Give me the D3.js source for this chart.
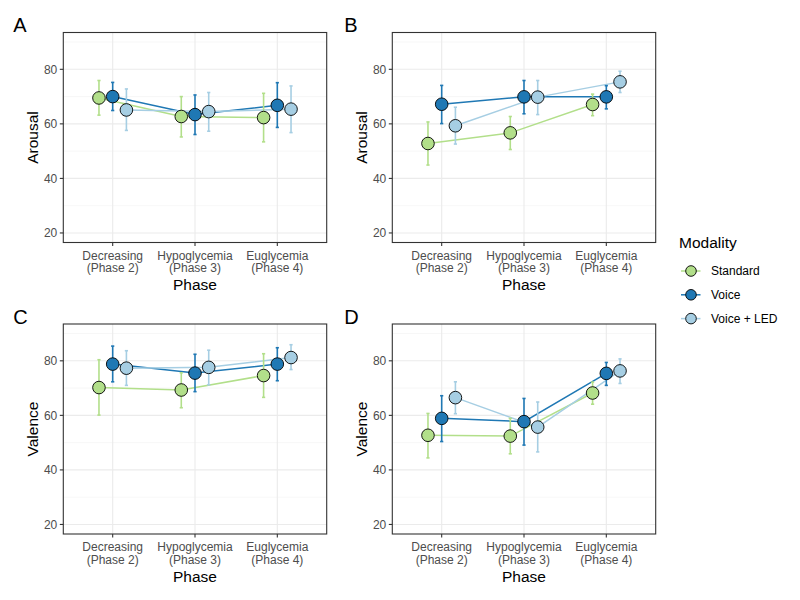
<!DOCTYPE html>
<html>
<head>
<meta charset="utf-8">
<script src="https://cdn.jsdelivr.net/npm/d3@7"></script>
<style>
  body { margin: 0; background: #fff; }
  svg { display: block; font-family: "Liberation Sans", Arial, sans-serif; }
</style>
</head>
<body>
<svg id="chart" width="800" height="600"></svg>
<script>
// ---- Data ----
const phases = ["Decreasing|(Phase 2)", "Hypoglycemia|(Phase 3)", "Euglycemia|(Phase 4)"];
const modalities = ["Standard", "Voice", "Voice + LED"];
const modalityColors = ["#b2df8a", "#1f78b4", "#a6cee3"];
const yTicks = [20, 40, 60, 80];
const yMinor = [30, 50, 70, 90];
const yLimits = [20, 90];

// Panel A: Arousal (mean, lower, upper) per modality per phase
const arousalA_standard = [[69.5, 63.2, 75.9], [62.7, 55.2, 70.0], [62.3, 53.4, 71.2]];
const arousalA_voice    = [[70.0, 64.9, 75.2], [63.4, 56.1, 70.6], [66.8, 58.7, 75.1]];
const arousalA_led      = [[65.1, 57.6, 72.8], [64.5, 57.3, 71.5], [65.4, 56.8, 73.9]];
// Panel B: Arousal
const arousalB_standard = [[52.8, 44.9, 60.7], [56.7, 50.6, 62.7], [67.1, 63.0, 70.9]];
const arousalB_voice    = [[67.2, 60.1, 74.1], [69.9, 63.7, 75.9], [69.9, 65.5, 74.0]];
const arousalB_led      = [[59.3, 52.6, 66.1], [69.8, 63.4, 75.9], [75.4, 71.5, 79.3]];
// Panel C: Valence
const valenceC_standard = [[70.2, 60.1, 80.4], [69.3, 62.8, 75.6], [74.6, 66.6, 82.6]];
const valenceC_voice    = [[78.8, 72.3, 85.4], [75.5, 68.7, 82.4], [78.8, 72.7, 84.8]];
const valenceC_led      = [[77.3, 71.0, 83.7], [77.6, 71.2, 83.9], [81.2, 76.8, 85.9]];
// Panel D: Valence
const valenceD_standard = [[52.7, 44.4, 60.7], [52.4, 45.9, 58.9], [68.2, 64.1, 72.2]];
const valenceD_voice    = [[58.9, 50.4, 67.2], [57.7, 49.1, 66.2], [75.4, 71.0, 79.4]];
const valenceD_led      = [[66.5, 60.6, 72.3], [55.7, 46.6, 64.9], [76.3, 71.7, 80.7]];

const panels = [
  { letter: "A", ylab: "Arousal", series: [arousalA_standard, arousalA_voice, arousalA_led], x0: 63.3, y0: 32.5 },
  { letter: "B", ylab: "Arousal", series: [arousalB_standard, arousalB_voice, arousalB_led], x0: 392.3, y0: 32.5 },
  { letter: "C", ylab: "Valence", series: [valenceC_standard, valenceC_voice, valenceC_led], x0: 63.3, y0: 324 },
  { letter: "D", ylab: "Valence", series: [valenceD_standard, valenceD_voice, valenceD_led], x0: 392.3, y0: 324 }
];

const pw = 263.4, ph = 210;
const svg = d3.select("#chart");
const dodge = 0.5 / 3;

panels.forEach(p => {
  const g = svg.append("g").attr("transform", `translate(${p.x0},${p.y0})`);
  const span = yLimits[1] - yLimits[0];
  const y = d3.scaleLinear().domain([yLimits[0] - span * 0.05, yLimits[1] + span * 0.05]).range([ph, 0]);
  const x = d3.scaleLinear().domain([0.4, 3.6]).range([0, pw]);

  // grid
  g.selectAll(".minor").data(yMinor).enter().append("line")
    .attr("x1", 0).attr("x2", pw).attr("y1", d => y(d)).attr("y2", d => y(d))
    .attr("stroke", "#f2f2f2").attr("stroke-width", 0.6);
  g.selectAll(".major").data(yTicks).enter().append("line")
    .attr("x1", 0).attr("x2", pw).attr("y1", d => y(d)).attr("y2", d => y(d))
    .attr("stroke", "#ebebeb").attr("stroke-width", 1.1);
  g.selectAll(".vmajor").data(phases).enter().append("line")
    .attr("x1", (d, i) => x(i + 1)).attr("x2", (d, i) => x(i + 1)).attr("y1", 0).attr("y2", ph)
    .attr("stroke", "#ebebeb").attr("stroke-width", 1.1);

  // lines
  p.series.forEach((s, k) => {
    const line = d3.line().x((d, i) => x(i + 1 + (k - 1) * dodge)).y(d => y(d[0]));
    g.append("path").attr("d", line(s)).attr("fill", "none")
      .attr("stroke", modalityColors[k]).attr("stroke-width", 1.5);
  });
  // error bars
  p.series.forEach((s, k) => {
    s.forEach((d, i) => {
      const cx = x(i + 1 + (k - 1) * dodge);
      const eg = g.append("g").attr("stroke", modalityColors[k]).attr("stroke-width", 1.6);
      eg.append("line").attr("x1", cx).attr("x2", cx).attr("y1", y(d[1])).attr("y2", y(d[2]));
      eg.append("line").attr("x1", cx - 1.6).attr("x2", cx + 1.6).attr("y1", y(d[1])).attr("y2", y(d[1]));
      eg.append("line").attr("x1", cx - 1.6).attr("x2", cx + 1.6).attr("y1", y(d[2])).attr("y2", y(d[2]));
    });
  });
  // points
  p.series.forEach((s, k) => {
    g.selectAll(null).data(s).enter().append("circle")
      .attr("cx", (d, i) => x(i + 1 + (k - 1) * dodge)).attr("cy", d => y(d[0]))
      .attr("r", 6.3).attr("fill", modalityColors[k]).attr("stroke", "#000").attr("stroke-width", 0.9);
  });

  // border
  g.append("rect").attr("width", pw).attr("height", ph).attr("fill", "none")
    .attr("stroke", "#333").attr("stroke-width", 1.1);

  // y axis ticks/labels
  yTicks.forEach(t => {
    g.append("line").attr("x1", -3.5).attr("x2", 0).attr("y1", y(t)).attr("y2", y(t))
      .attr("stroke", "#333").attr("stroke-width", 1.1);
    g.append("text").attr("x", -6).attr("y", y(t)).attr("dy", "0.35em")
      .attr("text-anchor", "end").attr("font-size", 12).attr("fill", "#4d4d4d").text(t);
  });
  // x axis ticks/labels
  phases.forEach((ph_, i) => {
    const cx = x(i + 1);
    g.append("line").attr("x1", cx).attr("x2", cx).attr("y1", ph).attr("y2", ph + 3.5)
      .attr("stroke", "#333").attr("stroke-width", 1.1);
    const parts = ph_.split("|");
    parts.forEach((t, j) => {
      g.append("text").attr("x", cx).attr("y", ph + 17 + j * 12.8)
        .attr("text-anchor", "middle").attr("font-size", 12).attr("fill", "#4d4d4d").text(t);
    });
  });
  // axis titles
  g.append("text").attr("x", pw / 2).attr("y", ph + 47.5).attr("text-anchor", "middle")
    .attr("font-size", 15.5).attr("fill", "#000").text("Phase");
  g.append("text").attr("transform", `translate(${-25},${ph / 2}) rotate(-90)`)
    .attr("text-anchor", "middle").attr("font-size", 15.5).attr("fill", "#000").text(p.ylab);
  // panel letter
  g.append("text").attr("x", p.x0 < 100 ? -50 : -48).attr("y", -0.5)
    .attr("font-size", 20).attr("fill", "#000").text(p.letter);
});

// legend
const lg = svg.append("g").attr("transform", "translate(679,0)");
lg.append("text").attr("x", 0).attr("y", 248).attr("font-size", 15.5).attr("fill", "#000").text("Modality");
modalities.forEach((m, k) => {
  const cy = 271 + k * 23.8;
  lg.append("line").attr("x1", 2).attr("x2", 21.5).attr("y1", cy).attr("y2", cy)
    .attr("stroke", modalityColors[k]).attr("stroke-width", 1.5);
  lg.append("circle").attr("cx", 12).attr("cy", cy).attr("r", 5.3)
    .attr("fill", modalityColors[k]).attr("stroke", "#000").attr("stroke-width", 0.9);
  lg.append("text").attr("x", 32).attr("y", cy).attr("dy", "0.35em")
    .attr("font-size", 12).attr("fill", "#000").text(m);
});
</script>
</body>
</html>
